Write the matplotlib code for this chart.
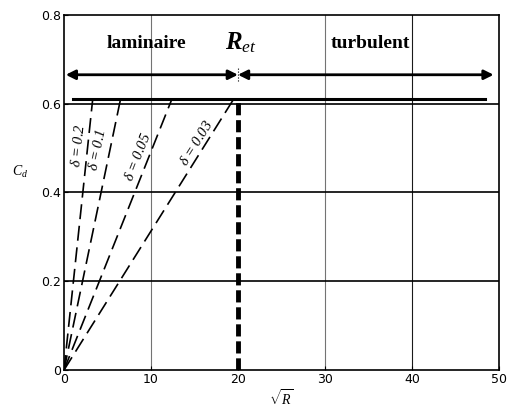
import numpy as np
import matplotlib.pyplot as plt

plt.rcParams['mathtext.fontset'] = 'custom'
plt.rcParams['mathtext.rm'] = 'Liberation Serif'
plt.rcParams['mathtext.it'] = 'Liberation Serif:italic'
plt.rcParams['mathtext.bf'] = 'Liberation Serif:bold:italic'

# data
cd_max = 0.61                      # plateau of C_d
sqrt_ret = 20.0                    # transition sqrt(R_et)
deltas = [0.2, 0.1, 0.05, 0.03]
x_reach = [3.3, 6.5, 12.4, 19.5]   # sqrt(R) where each delta line meets the plateau
label_pos = [(1.6, 0.505), (3.9, 0.495), (8.5, 0.48), (15.2, 0.51)]
plateau_x = [1.0, 48.4]
arrow_y = 0.665
arrow_left = 0.2
arrow_right = 49.4

fig = plt.figure(figsize=(5.08, 4.12), dpi=100)
ax = fig.add_axes([0.126, 0.102, 0.856, 0.862])
ax.set_xlim(0, 50)
ax.set_ylim(0, 0.8)

# grid
for xv in [10, 30]:
    ax.axvline(xv, color='0.45', lw=0.8, zorder=1)
ax.axvline(40, color='0.1', lw=0.8, zorder=1)
for yv in [0.2, 0.4, 0.6]:
    ax.axhline(yv, color='black', lw=1.2, zorder=1)

# laminar lines
for d, xr, (tx, ty) in zip(deltas, x_reach, label_pos):
    ax.plot([0, xr], [0, cd_max], color='black', lw=1.2, dashes=(9, 4), zorder=3)
    p0 = ax.transData.transform((0, 0))
    p1 = ax.transData.transform((xr, cd_max))
    ang = np.degrees(np.arctan2(p1[1] - p0[1], p1[0] - p0[0]))
    ax.text(tx, ty, '$\\delta$ = %g' % d, rotation=ang, fontsize=10.5,
            family='Liberation Serif', style='italic', ha='center', va='center',
            rotation_mode='anchor')

# plateau
ax.plot(plateau_x, [cd_max, cd_max], color='black', lw=2.2, zorder=3)

# transition
ax.plot([sqrt_ret, sqrt_ret], [0, cd_max], color='black', lw=3.5,
        dashes=(2.5, 1), zorder=4)

# arrows
ax.annotate('', xy=(arrow_left, arrow_y), xytext=(sqrt_ret, arrow_y),
            arrowprops=dict(arrowstyle='<|-|>', lw=2, color='black',
                            shrinkA=0, shrinkB=0, mutation_scale=14))
ax.annotate('', xy=(sqrt_ret, arrow_y), xytext=(arrow_right, arrow_y),
            arrowprops=dict(arrowstyle='<|-|>', lw=2, color='black',
                            shrinkA=0, shrinkB=0, mutation_scale=14))
ax.plot([sqrt_ret, sqrt_ret], [arrow_y - 0.015, arrow_y + 0.015], color='black', lw=0.8, ls=':')

ax.text(9.5, 0.735, 'laminaire', fontsize=14, family='Liberation Serif',
        weight='bold', ha='center', va='center')
ax.text(35.2, 0.735, 'turbulent', fontsize=14, family='Liberation Serif',
        weight='bold', ha='center', va='center')
ax.text(20.3, 0.738, '$\\mathbf{R}_{et}$', fontsize=18, ha='center', va='center')

ax.set_xticks([0, 10, 20, 30, 40, 50])
ax.set_yticks([0, 0.2, 0.4, 0.6, 0.8])
ax.set_yticklabels(['0', '0.2', '0.4', '0.6', '0.8'])
ax.tick_params(direction='in', length=3, labelsize=9, pad=2)
ax.set_xlabel('$\\sqrt{R}$', fontsize=10, labelpad=2)
ax.set_ylabel('$C_d$', fontsize=10, rotation=0, labelpad=12)
ax.yaxis.set_label_coords(-0.1, 0.535)
for s in ax.spines.values():
    s.set_linewidth(1.2)

fig.savefig('out.png', dpi=100)
